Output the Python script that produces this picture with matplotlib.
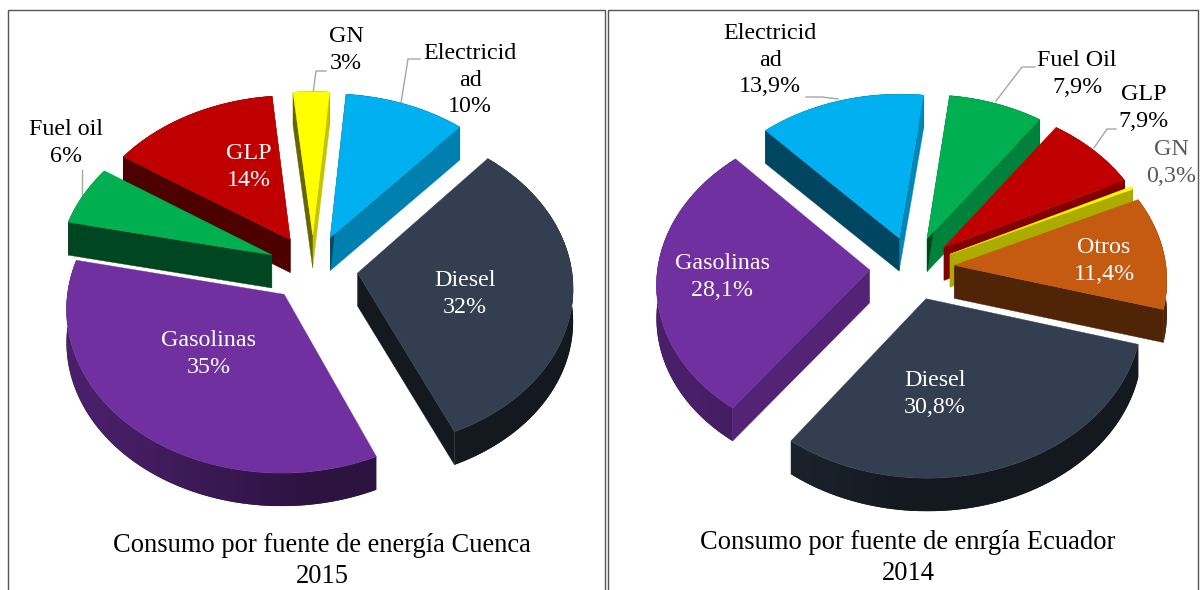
import numpy as np
import matplotlib
matplotlib.use("Agg")
import matplotlib.pyplot as plt
from matplotlib.patches import PathPatch, Polygon, Rectangle
from matplotlib.path import Path
from matplotlib.colors import to_rgb

plt.rcParams['font.family'] = ['Liberation Serif', 'DejaVu Serif']

# --- DATA ---
names_cuenca = ["Electricidad", "Diesel", "Gasolinas", "Fuel oil", "GLP", "GN"]
values_cuenca = [10, 32, 35, 6, 14, 3]
names_ecuador = ["Fuel Oil", "GLP", "GN", "Otros", "Diesel", "Gasolinas", "Electricidad"]
values_ecuador = [7.9, 7.9, 0.3, 11.4, 30.8, 28.1, 13.9]

title_cuenca = "Consumo por fuente de energía Cuenca\n2015"
title_ecuador = "Consumo por fuente de enrgía Ecuador\n2014"

COLORS = {"Electricidad": "#00B0F0", "Diesel": "#333F50", "Gasolinas": "#7030A0",
          "Fuel oil": "#00B050", "Fuel Oil": "#00B050", "GLP": "#C00000",
          "GN": "#FFFF00", "Otros": "#C55A11"}

# --- CONFIGURATION ---
DEPTH = 33
TILT = 0.08
CUENCA = dict(cx=313, cy=268, rx=214, s=160, start=85, explode=0.21)
ECUADOR = dict(cx=912, cy=268, rx=212, s=160, start=83, explode=0.20)


def project(pts, cfg):
    """Tilted plane to screen pixels, the back of the pie comes out smaller."""
    pts = np.asarray(pts, dtype=float)
    w = 1 + TILT * pts[:, 1]
    return np.column_stack([cfg["cx"] + cfg["rx"] * pts[:, 0] / w,
                            cfg["cy"] - cfg["s"] * pts[:, 1] / w])


def shade(color, f):
    return tuple(c * f for c in to_rgb(color))


def side_poly(top_pts):
    top = np.asarray(top_pts)
    return np.vstack([top, (top + [0, DEPTH])[::-1]])


def draw_rim(ax, w, color, cfg, z):
    """Outer rim of a slice, a gradient image clipped to the rim outline."""
    cx, cy = w.center
    th = np.radians(np.linspace(w.theta1, w.theta2, 80))
    rim = project(np.column_stack([cx + np.cos(th), cy + np.sin(th)]), cfg)
    outline = side_poly(rim)
    poly = Polygon(outline, closed=True, facecolor=shade(color, 0.4),
                   edgecolor='none', zorder=z)
    ax.add_patch(poly)
    x0, x1 = outline[:, 0].min(), outline[:, 0].max()
    y0, y1 = outline[:, 1].min(), outline[:, 1].max()
    xs = np.linspace(x0, x1, 64)
    f = 0.4 + 0.25 * np.clip((cfg["cx"] - xs) / cfg["rx"], 0, 1)
    img = np.array([[shade(color, v) for v in f]])
    im = ax.imshow(img, extent=(x0, x1, y1, y0), aspect='auto',
                   interpolation='bilinear', zorder=z)
    im.set_clip_path(poly)


def draw_pie(ax, names, values, cfg):
    wedges, _ = ax.pie(values, explode=[cfg["explode"]] * len(values),
                       startangle=cfg["start"], counterclock=False,
                       colors=[COLORS[n] for n in names])
    # back slices first so the front ones sit on top of them
    mids = [np.radians((w.theta1 + w.theta2) / 2) for w in wedges]
    order = np.argsort([-np.sin(m) for m in mids])
    for rank, i in enumerate(order):
        w = wedges[i]
        color = COLORS[names[i]]
        cx, cy = w.center
        z = 2 + rank
        apex = project([[cx, cy]], cfg)[0]

        draw_rim(ax, w, color, cfg, z)

        # the two cut faces, skip the ones turned away from us
        for angle, sign in ((w.theta1, -1), (w.theta2, 1)):
            a = np.radians(angle)
            if np.sin(a + sign * np.pi / 2) > 0.2:
                continue
            end = project([[cx + np.cos(a), cy + np.sin(a)]], cfg)[0]
            nx = np.cos(a + sign * np.pi / 2)
            f = 0.6 + 0.17 * nx if nx > 0 else 0.4
            c = shade(color, f)
            ax.add_patch(Polygon(side_poly([apex, end]), closed=True, facecolor=c,
                                 edgecolor=c, linewidth=0.3, zorder=z + 0.2))

        # top surface
        path = w.get_path()
        ax.add_patch(PathPatch(Path(project(path.vertices, cfg), path.codes),
                               facecolor=color, edgecolor=color, linewidth=0.3, zorder=z + 0.5))
        w.remove()


fig = plt.figure(figsize=(12.03, 5.90), dpi=100)
ax = fig.add_axes([0, 0, 1, 1])
draw_pie(ax, names_cuenca, values_cuenca, CUENCA)
draw_pie(ax, names_ecuador, values_ecuador, ECUADOR)
ax.set_aspect('auto')
ax.set_xlim(0, 1203)
ax.set_ylim(590, 0)
ax.axis('off')

# Panel frames
for x0, x1 in ((8, 605), (608, 1198)):
    ax.add_patch(Rectangle((x0, 10), x1 - x0, 590, facecolor='none', edgecolor='#555555',
                           linewidth=1.0, zorder=1))

# Leader lines
leaders = [[(313, 94), (316, 71), (326, 71)], [(401, 103), (408, 59), (420, 59)],
           [(82, 195), (82, 170)], [(806, 97), (822, 97), (838, 99)],
           [(996, 101), (1022, 67), (1035, 67)], [(1094, 148), (1107, 129), (1116, 129)]]
for pts in leaders:
    xs, ys = zip(*pts)
    ax.plot(xs, ys, color='#A6A6A6', lw=1.0, zorder=1.5)

# Labels
LABEL_SIZE = 17.3
labels = [(346, 50, "GN\n3%", 'black'), (470, 80, "Electricid\nad\n10%", 'black'),
          (66, 143, "Fuel oil\n6%", 'black'), (249, 167, "GLP\n14%", 'white'),
          (465, 294, "Diesel\n32%", 'white'), (209, 354, "Gasolinas\n35%", 'white'),
          (770, 60, "Electricid\nad\n13,9%", 'black'), (1077, 74, "Fuel Oil\n7,9%", 'black'),
          (1144, 108, "GLP\n7,9%", 'black'), (1171, 163, "GN\n0,3%", '#595959'),
          (1104, 261, "Otros\n11,4%", 'white'), (935, 394, "Diesel\n30,8%", 'white'),
          (722, 277, "Gasolinas\n28,1%", 'white')]
for x, y, txt, col in labels:
    ax.text(x, y, txt, ha='center', va='center', color=col, fontsize=LABEL_SIZE,
            linespacing=1.35, zorder=20)

ax.text(322, 561, title_cuenca, ha='center', va='center', fontsize=19.1, linespacing=1.3, zorder=20)
ax.text(908, 558, title_ecuador, ha='center', va='center', fontsize=19.1, linespacing=1.3, zorder=20)

fig.savefig("out.png", dpi=100)
